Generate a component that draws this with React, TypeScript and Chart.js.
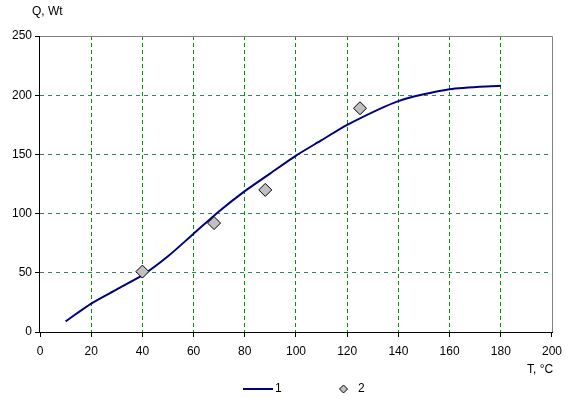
import React, { useEffect, useRef } from "react";
import { Chart, registerables } from "chart.js";

Chart.register(...registerables);

const lineT = [10, 20, 30, 40, 50, 60, 70, 80, 90, 100, 110, 120, 140, 160, 180];
const lineQ = [9, 24, 36, 48, 64, 83, 102, 119, 134, 149, 162, 175, 195, 205, 208];
const ptsT = [40, 68, 88, 125];
const ptsQ = [51, 92, 120, 189];
const xTicks = [0, 20, 40, 60, 80, 100, 120, 140, 160, 180, 200];
const yTicks = [0, 50, 100, 150, 200, 250];
const seriesNames = ["1", "2"];

const FONT = "'Liberation Sans', Arial, sans-serif";

export default function App() {
  const ref = useRef<HTMLCanvasElement | null>(null);
  useEffect(() => {
    const canvas = ref.current!;
    const framePlugin = {
      id: "frame",
      afterDraw(chart: any) {
        const { ctx, chartArea: a } = chart;
        ctx.save();
        ctx.lineWidth = 1;
        ctx.strokeStyle = "#808080";
        ctx.beginPath();
        ctx.moveTo(a.left, a.top + 0.5);
        ctx.lineTo(a.right + 0.5, a.top + 0.5);
        ctx.lineTo(a.right + 0.5, a.bottom);
        ctx.stroke();
        ctx.strokeStyle = "#000";
        ctx.beginPath();
        ctx.moveTo(a.left - 0.5, a.top);
        ctx.lineTo(a.left - 0.5, a.bottom + 0.5);
        ctx.lineTo(a.right + 1, a.bottom + 0.5);
        ctx.stroke();
        // titles
        ctx.fillStyle = "#000";
        ctx.font = "12px " + FONT;
        ctx.textBaseline = "middle";
        ctx.textAlign = "left";
        ctx.fillText("Q, Wt", 32, 12);
        ctx.fillText("T, °C", 527, 370);
        // legend
        ctx.strokeStyle = "#000080";
        ctx.lineWidth = 2;
        ctx.beginPath();
        ctx.moveTo(243, 389);
        ctx.lineTo(273, 389);
        ctx.stroke();
        ctx.fillText(seriesNames[0], 275, 389);
        ctx.lineWidth = 1;
        ctx.fillStyle = "#c0c0c0";
        ctx.strokeStyle = "#000";
        ctx.beginPath();
        ctx.moveTo(343.5 - 4, 389);
        ctx.lineTo(343.5, 389 - 4);
        ctx.lineTo(343.5 + 4, 389);
        ctx.lineTo(343.5, 389 + 4);
        ctx.closePath();
        ctx.fill();
        ctx.stroke();
        ctx.fillStyle = "#000";
        ctx.fillText(seriesNames[1], 358, 389);
        ctx.restore();
      },
    };
    const chart = new Chart(canvas, {
      type: "scatter",
      data: {
        datasets: [
          {
            label: seriesNames[0],
            type: "line",
            data: lineT.map((t, i) => ({ x: t, y: lineQ[i] })),
            borderColor: "#000080",
            borderWidth: 2,
            pointRadius: 0,
            tension: 0.25,
            fill: false,
            order: 2,
          },
          {
            label: seriesNames[1],
            data: ptsT.map((t, i) => ({ x: t, y: ptsQ[i] })),
            pointStyle: "rectRot",
            pointRadius: 6.5,
            backgroundColor: "#c0c0c0",
            borderColor: "#000",
            borderWidth: 1,
            order: 1,
          },
        ],
      },
      options: {
        animation: false,
        responsive: false,
        devicePixelRatio: 1,
        layout: { padding: { top: 36, right: 16, left: 0, bottom: 0 } },
        plugins: { legend: { display: false }, tooltip: { enabled: false } },
        scales: {
          x: {
            type: "linear",
            min: 0,
            max: 200,
            afterBuildTicks: (s: any) => {
              s.ticks = xTicks.map((v) => ({ value: v }));
            },
            afterFit: (s: any) => {
              s.height = 72;
            },
            border: { display: false, dash: [4, 3] },
            grid: {
              color: (c: any) =>
                c.tick && (c.tick.value === 0 || c.tick.value === 200) ? "rgba(0,0,0,0)" : "#009600",
              tickColor: "#000",
              tickBorderDash: [],
              tickLength: 5,
              drawTicks: true,
            } as any,
            ticks: {
              color: "#000",
              font: { family: FONT, size: 12 },
              padding: 7,
              maxRotation: 0,
              autoSkip: false,
            },
          },
          y: {
            type: "linear",
            min: 0,
            max: 250,
            afterBuildTicks: (s: any) => {
              s.ticks = yTicks.map((v) => ({ value: v }));
            },
            afterFit: (s: any) => {
              s.width = 40;
            },
            border: { display: false, dash: [4, 4] },
            grid: {
              color: (c: any) =>
                c.tick && (c.tick.value === 0 || c.tick.value === 250) ? "rgba(0,0,0,0)" : "#3c8060",
              tickColor: "#000",
              tickBorderDash: [],
              tickLength: 5,
              drawTicks: true,
            } as any,
            ticks: {
              color: "#000",
              font: { family: FONT, size: 12 },
              padding: 3,
              autoSkip: false,
            },
          },
        },
      } as any,
      plugins: [framePlugin],
    });
    return () => chart.destroy();
  }, []);
  return (
    <div style={{ position: "absolute", left: 0, top: 0, width: 569, height: 404, background: "#fff" }}>
      <canvas ref={ref} width={569} height={404} style={{ display: "block" }} />
    </div>
  );
}
